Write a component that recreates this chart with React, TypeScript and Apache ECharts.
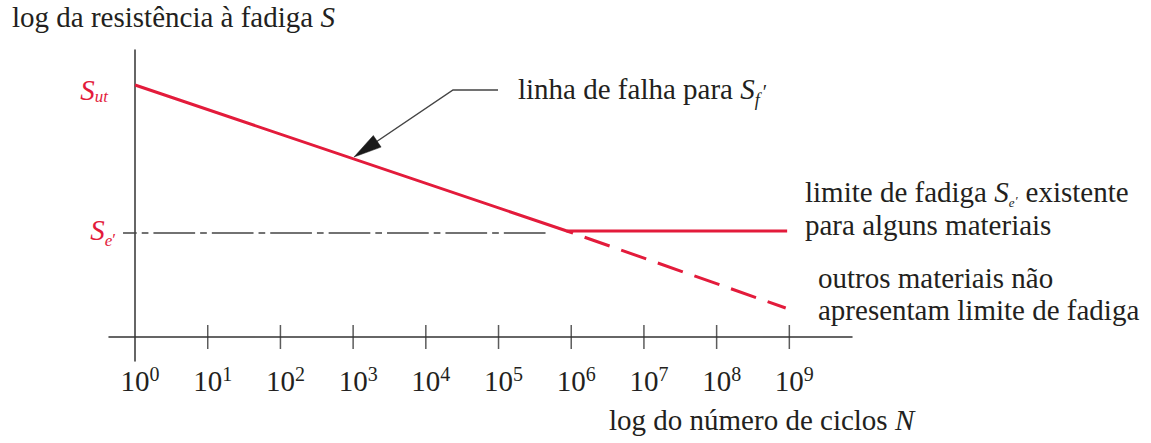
import React, { useEffect, useRef } from 'react';
import * as echarts from 'echarts';

const W = 1151;
const H = 443;
const RED = '#e31b3b';
const INK = '#231f20';
const AXIS = '#333333';
const SERIF = "'Liberation Serif', 'Times New Roman', serif";
const F = 29;

// x axis: exponent of N (log10 of number of cycles)
const xExponents = [0, 1, 2, 3, 4, 5, 6, 7, 8, 9];
const xTickLabels = ['0', '1', '2', '3', '4', '5', '6', '7', '8', '9'];
// y axis: log S (arbitrary units, 0 = x axis)
const S_UT = 2.52;
const S_E = 1.06;
const yTickValues = [S_UT, S_E];
const yTickLabels = ['ut', 'e'];
// series
const failureLine = [[0, 2.52], [5.94, 1.06], [8.97, 1.06]];
const noLimitLine = [[5.94, 1.06], [8.95, 0.29]];
const referenceLine = [[-0.165, 1.04], [5.67, 1.04]];
const tickMarks = xExponents.slice(1).map((e) => [e, 0]);

// texts
const yTitle = 'log da resistência à fadiga ';
const xTitle = 'log do número de ciclos ';
const failText = 'linha de falha para ';
const endText1 = 'limite de fadiga ';
const endText1b = ' existente';
const endText2 = 'para alguns materiais';
const noneText1 = 'outros materiais não';
const noneText2 = 'apresentam limite de fadiga';

const gt = (size: number, italic: boolean, pad: number[] = [0, 0, 0, 0], h = size, color = INK) => ({
  fill: color,
  fontFamily: SERIF,
  fontSize: size,
  fontStyle: italic ? 'italic' : 'normal',
  height: h,
  verticalAlign: 'top',
  padding: pad,
});

const GR = {
  n: gt(F, false),
  i: gt(F, true),
  sf: gt(18, true, [16.2, 0, 0, 0]),
  pf: gt(20, false, [7.55, 0, 0, 3]),
  se: gt(13, true, [20.9, 0, 0, 0], 8),
  pe: gt(13, false, [18.9, 0, 0, 1], 8),
};

const textEl = (x: number, top: number, text: string) => ({
  type: 'text',
  x,
  y: top,
  silent: true,
  style: {
    text,
    rich: GR,
    fill: INK,
    font: `${F}px ${SERIF}`,
    align: 'left',
    verticalAlign: 'top',
    textAlign: 'left',
    textVerticalAlign: 'top',
  },
});

const lt = (size: number, italic: boolean, pad: number[], color: string) => ({
  color,
  fontFamily: SERIF,
  fontSize: size,
  fontStyle: italic ? 'italic' : 'normal',
  height: size,
  verticalAlign: 'top',
  padding: pad,
});

export default function App() {
  const ref = useRef<HTMLDivElement>(null);

  useEffect(() => {
    if (!ref.current) return;
    const chart = echarts.init(ref.current, undefined, { renderer: 'svg' });

    const option: any = {
      animation: false,
      grid: { left: 109, right: 299, top: 50, bottom: 82, containLabel: false, outerBoundsMode: 'none' },
      xAxis: {
        type: 'value',
        min: -0.358,
        max: 9.862,
        axisLine: { show: true, onZero: true, lineStyle: { color: AXIS, width: 1.5 } },
        axisTick: { show: false },
        splitLine: { show: false },
        axisLabel: {
          customValues: xExponents,
          margin: 3,
          formatter: (v: number) => {
            const idx = xExponents.findIndex((e) => Math.abs(e - v) < 1e-6);
            return `{b|10}{s|${xTickLabels[idx]}}`;
          },
          rich: {
            b: lt(F, false, [2.7, 0, 0, 10], INK),
            s: lt(20, false, [0.25, 0, 0, 0], INK),
          },
        },
      },
      yAxis: {
        type: 'value',
        min: -0.24,
        max: 2.87,
        axisLine: { show: true, onZero: true, lineStyle: { color: AXIS, width: 1.5 } },
        axisTick: { show: false },
        splitLine: { show: false },
        axisLabel: {
          customValues: yTickValues,
          margin: -7,
          formatter: (v: number) => {
            const idx = yTickValues.findIndex((e) => Math.abs(e - v) < 1e-6);
            return idx === 0
              ? `{S1|S}{ut|${yTickLabels[0]}}`
              : `{S2|S}{e|${yTickLabels[1]}}{p|′}`;
          },
          rich: {
            S1: lt(F, true, [10.5, 0, 0, 0], RED),
            ut: lt(17, true, [22.55, 8, 0, 0], RED),
            S2: lt(F, true, [2.5, 0, 0, 0], RED),
            e: lt(17, true, [18.55, 0, 0, 0], RED),
            p: lt(17, false, [17.56, 0, 0, 0], RED),
          },
        },
      },
      series: [
        {
          type: 'line',
          data: referenceLine,
          symbol: 'none',
          silent: true,
          z: 2,
          lineStyle: { color: '#444444', width: 1.5, type: [41.7, 5, 6.7, 5], dashOffset: 27.7 },
        },
        {
          type: 'line',
          data: noLimitLine,
          symbol: 'none',
          silent: true,
          z: 3,
          lineStyle: { color: RED, width: 3, type: [26.5, 12.3], dashOffset: 19.7 },
        },
        {
          type: 'line',
          data: failureLine,
          symbol: 'none',
          silent: true,
          z: 4,
          lineStyle: { color: RED, width: 3, type: 'solid' },
        },
        {
          type: 'scatter',
          data: tickMarks,
          symbol: 'rect',
          symbolSize: [1.5, 24],
          silent: true,
          z: 1,
          itemStyle: { color: AXIS },
        },
      ],
      graphic: {
        elements: [
          textEl(12, 2.7, `{n|${yTitle}}{i|S}`),
          textEl(609, 405.7, `{n|${xTitle}}{i|N}`),
          textEl(518, 74.7, `{n|${failText}}{i|S}{sf|f}{pf|′}`),
          textEl(805, 177.7, `{n|${endText1}}{i|S}{se|e}{pe|′}{n|${endText1b}}`),
          textEl(805, 210.2, `{n|${endText2}}`),
          textEl(818, 263.7, `{n|${noneText1}}`),
          textEl(818, 295.7, `{n|${noneText2}}`),
          {
            type: 'polyline',
            silent: true,
            shape: { points: [[498, 90], [453, 90], [376, 142]] },
            style: { stroke: '#444444', lineWidth: 1.5, fill: null },
          },
          {
            type: 'polygon',
            silent: true,
            shape: { points: [[354, 157], [373.3, 135.5], [381.1, 147.1]] },
            style: { fill: '#1a1a1a', stroke: '#1a1a1a', lineWidth: 0.5 },
          },
        ],
      },
    };

    chart.setOption(option);
    return () => chart.dispose();
  }, []);

  return (
    <div
      ref={ref}
      style={{ position: 'fixed', left: 0, top: 0, width: W, height: H, background: '#ffffff' }}
    />
  );
}
